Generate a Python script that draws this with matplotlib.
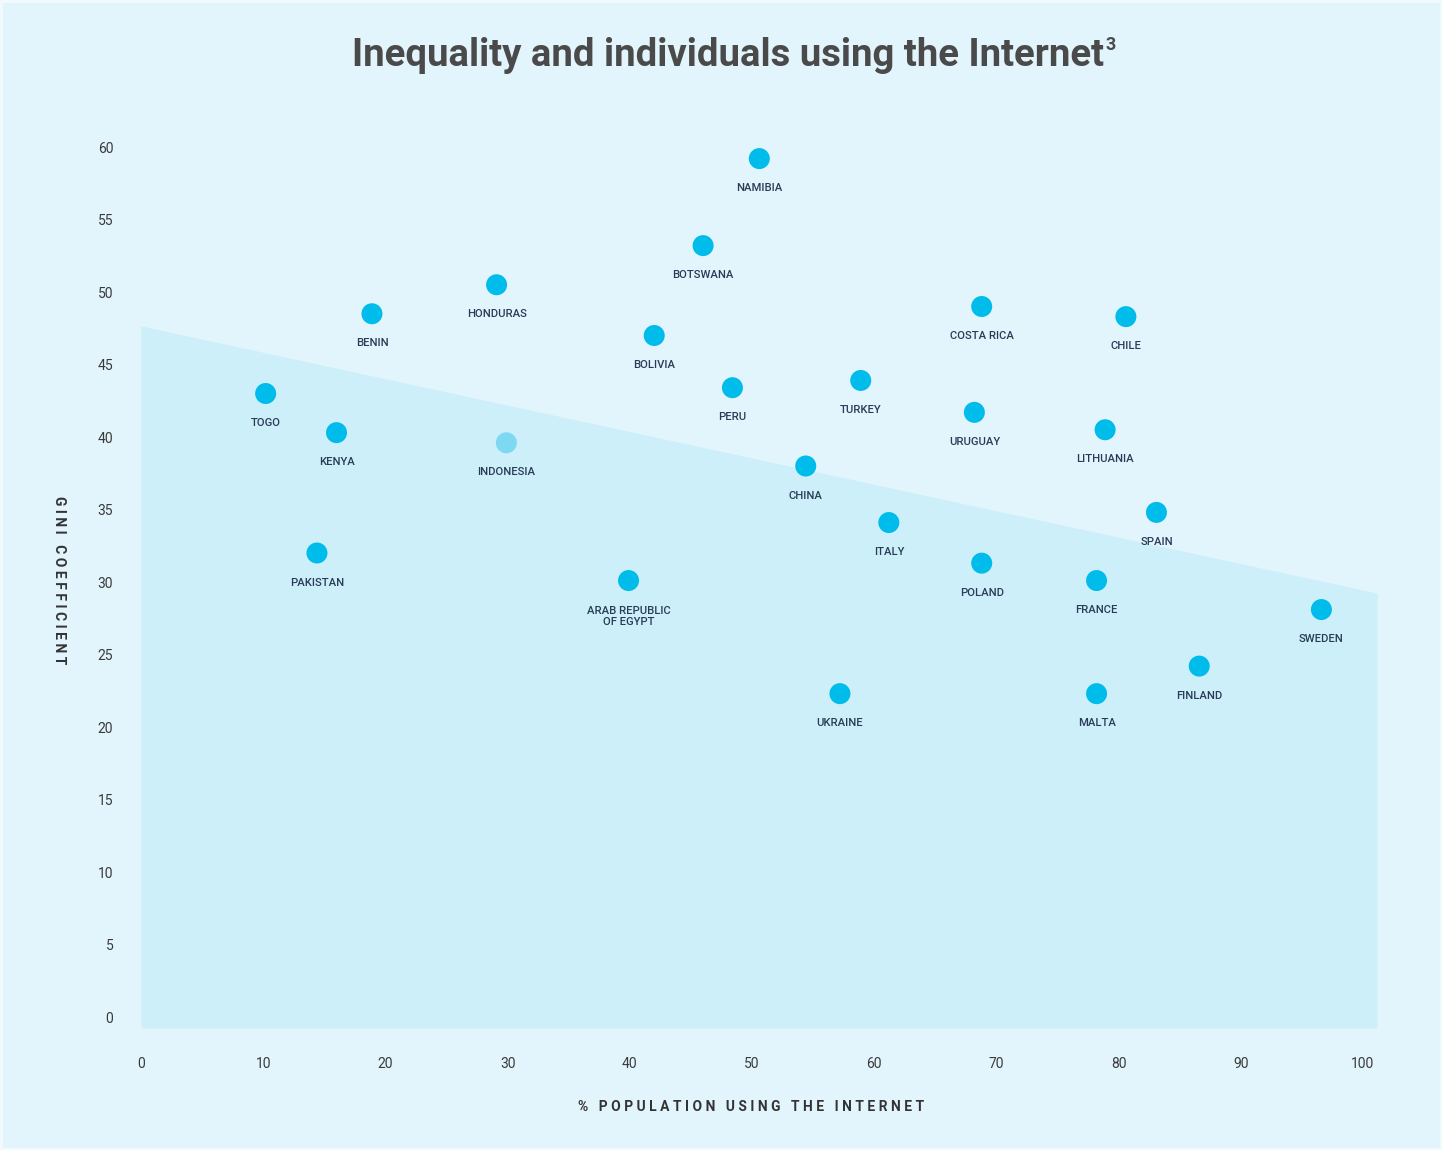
import matplotlib
matplotlib.use("Agg")
import matplotlib.pyplot as plt
from matplotlib.patches import Rectangle

# ---------------- data ----------------
countries = ["NAMIBIA", "BOTSWANA", "HONDURAS", "BENIN", "BOLIVIA", "COSTA RICA",
             "CHILE", "TOGO", "PERU", "TURKEY", "URUGUAY", "LITHUANIA", "KENYA",
             "INDONESIA", "CHINA", "SPAIN", "ITALY", "PAKISTAN", "POLAND",
             "ARAB REPUBLIC\nOF EGYPT", "FRANCE", "SWEDEN", "FINLAND", "UKRAINE", "MALTA"]
internet_pct = [50.6, 46.0, 29.1, 18.9, 42.0, 68.8,
                80.6, 10.2, 48.4, 58.9, 68.2, 78.9, 16.0,
                29.9, 54.4, 83.1, 61.2, 14.4, 68.8,
                39.9, 78.2, 96.6, 86.6, 57.2, 78.2]
gini = [59.2, 53.2, 50.5, 48.5, 47.0, 49.0,
        48.3, 43.0, 43.4, 43.9, 41.7, 40.5, 40.3,
        39.6, 38.0, 34.8, 34.1, 32.0, 31.3,
        30.1, 30.1, 28.1, 24.2, 22.3, 22.3]
highlighted = ["INDONESIA"]

trend_x = [0, 101.15]
trend_y = [47.66, 29.24]

x_ticks = [0, 10, 20, 30, 40, 50, 60, 70, 80, 90, 100]
y_ticks = [0, 5, 10, 15, 20, 25, 30, 35, 40, 45, 50, 55, 60]

title = "Inequality and individuals using the Internet"
title_sup = "3"
x_label = "% POPULATION USING THE INTERNET"
y_label = "GINI COEFFICIENT"

# ---------------- style ----------------
W, H = 1442, 1150
BG = "#E3F5FC"
FILL = "#CCEFF9"
DOT = "#00BCEB"
DOT_HI = "#7DD8F2"
LABEL_C = "#2A3B57"
TICK_C = "#3A3A3A"
TITLE_C = "#4A4A4A"
FONT = ["Roboto", "DejaVu Sans"]
PX = 0.72  # points per pixel at 100 dpi

plt.rcParams["font.family"] = FONT

fig = plt.figure(figsize=(W / 100, H / 100), dpi=100)
fig.patch.set_facecolor(BG)
fig.patches.append(Rectangle((0.0008, 0.001), 0.9984, 0.998, transform=fig.transFigure,
                             fill=False, edgecolor="#F2FAFE", lw=2))

y_bottom = -0.7586
y_top = 62.0
ax = fig.add_axes([141 / W, 1 - 1028 / H, (1377 - 141) / W, (1028 - 118) / H])
ax.set_facecolor("none")
ax.set_xlim(0, 101.15)
ax.set_ylim(y_bottom, y_top)
for s in ax.spines.values():
    s.set_visible(False)

ax.fill_between(trend_x, trend_y, y_bottom, color=FILL, lw=0, zorder=1)

colors = [DOT_HI if c in highlighted else DOT for c in countries]
ax.scatter(internet_pct, gini, s=(21 * PX) ** 2, c=colors, lw=0, zorder=3)

for c, x, y in zip(countries, internet_pct, gini):
    extra = 12 * c.count("\n")
    ax.annotate(c, (x, y), xytext=(0, -(32.5 + extra) * PX), textcoords="offset points",
                ha="center", va="baseline", fontsize=8.1, color=LABEL_C,
                fontweight="medium", linespacing=1.1, zorder=4)

ax.set_xticks(x_ticks)
ax.set_xticklabels([str(t) for t in x_ticks])
ax.set_yticks(y_ticks)
ax.set_yticklabels([str(t) for t in y_ticks])
ax.tick_params(axis="both", length=0, labelsize=10, labelcolor=TICK_C)
ax.tick_params(axis="x", pad=21)
ax.tick_params(axis="y", pad=20)

fig.text(751 / W, 1 - 1107 / H, " ".join(x_label),
         ha="center", va="center", fontsize=10, fontweight="bold", color="#333333")
fig.text(59 / W, 1 - 580 / H, " ".join(y_label),
         ha="center", va="center", rotation=-90, fontsize=10, fontweight="bold",
         color="#333333")

t = fig.text(1104 / W, 1 - 56 / H, title, ha="right", va="center", fontsize=27.6,
             fontweight="bold", color=TITLE_C)
fig.canvas.draw()
bb = t.get_window_extent()
fig.text(bb.x1 / W + 1 / W, 1 - 45 / H, title_sup, ha="left", va="center", fontsize=13,
         fontweight="bold", color=TITLE_C)

fig.savefig("out.png", dpi=100, facecolor=BG)
